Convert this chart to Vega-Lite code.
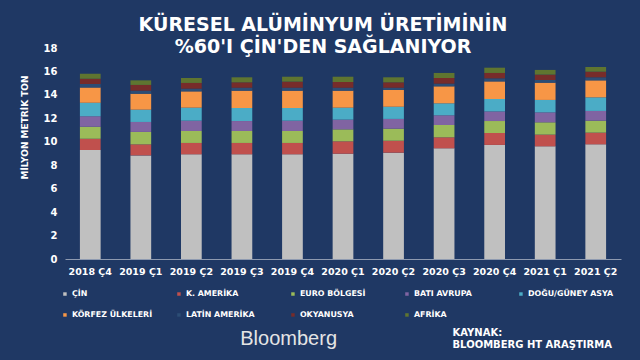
{
  "$schema": "https://vega.github.io/schema/vega-lite/v6.json",
  "autosize": "none",
  "width": 556,
  "height": 211,
  "padding": {"left": 65, "top": 48, "right": 19, "bottom": 101},
  "background": "#1f3864",
  "title": {
    "text": ["KÜRESEL ALÜMİNYUM ÜRETİMİNİN", "%60'I ÇİN'DEN SAĞLANIYOR"],
    "anchor": "middle",
    "frame": "group",
    "font": "DejaVu Sans",
    "fontSize": 19,
    "fontWeight": "bold",
    "color": "#ffffff",
    "lineHeight": 22,
    "dx": -20,
    "dy": 18
  },
  "datasets": {
    "production": [
      {"q": "2018 Ç4", "region": "ÇİN", "k": 1, "v": 9.30},
      {"q": "2018 Ç4", "region": "K. AMERİKA", "k": 2, "v": 0.96},
      {"q": "2018 Ç4", "region": "EURO BÖLGESİ", "k": 3, "v": 1.03},
      {"q": "2018 Ç4", "region": "BATI AVRUPA", "k": 4, "v": 0.88},
      {"q": "2018 Ç4", "region": "DOĞU/GÜNEY ASYA", "k": 5, "v": 1.17},
      {"q": "2018 Ç4", "region": "KÖRFEZ ÜLKELERİ", "k": 6, "v": 1.30},
      {"q": "2018 Ç4", "region": "LATİN AMERİKA", "k": 7, "v": 0.29},
      {"q": "2018 Ç4", "region": "OKYANUSYA", "k": 8, "v": 0.45},
      {"q": "2018 Ç4", "region": "AFRİKA", "k": 9, "v": 0.43},
      {"q": "2019 Ç1", "region": "ÇİN", "k": 1, "v": 8.84},
      {"q": "2019 Ç1", "region": "K. AMERİKA", "k": 2, "v": 0.94},
      {"q": "2019 Ç1", "region": "EURO BÖLGESİ", "k": 3, "v": 1.06},
      {"q": "2019 Ç1", "region": "BATI AVRUPA", "k": 4, "v": 0.85},
      {"q": "2019 Ç1", "region": "DOĞU/GÜNEY ASYA", "k": 5, "v": 1.05},
      {"q": "2019 Ç1", "region": "KÖRFEZ ÜLKELERİ", "k": 6, "v": 1.36},
      {"q": "2019 Ç1", "region": "LATİN AMERİKA", "k": 7, "v": 0.26},
      {"q": "2019 Ç1", "region": "OKYANUSYA", "k": 8, "v": 0.49},
      {"q": "2019 Ç1", "region": "AFRİKA", "k": 9, "v": 0.39},
      {"q": "2019 Ç2", "region": "ÇİN", "k": 1, "v": 8.93},
      {"q": "2019 Ç2", "region": "K. AMERİKA", "k": 2, "v": 0.97},
      {"q": "2019 Ç2", "region": "EURO BÖLGESİ", "k": 3, "v": 1.02},
      {"q": "2019 Ç2", "region": "BATI AVRUPA", "k": 4, "v": 0.88},
      {"q": "2019 Ç2", "region": "DOĞU/GÜNEY ASYA", "k": 5, "v": 1.11},
      {"q": "2019 Ç2", "region": "KÖRFEZ ÜLKELERİ", "k": 6, "v": 1.39},
      {"q": "2019 Ç2", "region": "LATİN AMERİKA", "k": 7, "v": 0.23},
      {"q": "2019 Ç2", "region": "OKYANUSYA", "k": 8, "v": 0.49},
      {"q": "2019 Ç2", "region": "AFRİKA", "k": 9, "v": 0.42},
      {"q": "2019 Ç3", "region": "ÇİN", "k": 1, "v": 8.93},
      {"q": "2019 Ç3", "region": "K. AMERİKA", "k": 2, "v": 0.97},
      {"q": "2019 Ç3", "region": "EURO BÖLGESİ", "k": 3, "v": 1.02},
      {"q": "2019 Ç3", "region": "BATI AVRUPA", "k": 4, "v": 0.85},
      {"q": "2019 Ç3", "region": "DOĞU/GÜNEY ASYA", "k": 5, "v": 1.11},
      {"q": "2019 Ç3", "region": "KÖRFEZ ÜLKELERİ", "k": 6, "v": 1.48},
      {"q": "2019 Ç3", "region": "LATİN AMERİKA", "k": 7, "v": 0.25},
      {"q": "2019 Ç3", "region": "OKYANUSYA", "k": 8, "v": 0.46},
      {"q": "2019 Ç3", "region": "AFRİKA", "k": 9, "v": 0.43},
      {"q": "2019 Ç4", "region": "ÇİN", "k": 1, "v": 8.93},
      {"q": "2019 Ç4", "region": "K. AMERİKA", "k": 2, "v": 0.97},
      {"q": "2019 Ç4", "region": "EURO BÖLGESİ", "k": 3, "v": 1.02},
      {"q": "2019 Ç4", "region": "BATI AVRUPA", "k": 4, "v": 0.88},
      {"q": "2019 Ç4", "region": "DOĞU/GÜNEY ASYA", "k": 5, "v": 1.08},
      {"q": "2019 Ç4", "region": "KÖRFEZ ÜLKELERİ", "k": 6, "v": 1.48},
      {"q": "2019 Ç4", "region": "LATİN AMERİKA", "k": 7, "v": 0.25},
      {"q": "2019 Ç4", "region": "OKYANUSYA", "k": 8, "v": 0.52},
      {"q": "2019 Ç4", "region": "AFRİKA", "k": 9, "v": 0.42},
      {"q": "2020 Ç1", "region": "ÇİN", "k": 1, "v": 8.98},
      {"q": "2020 Ç1", "region": "K. AMERİKA", "k": 2, "v": 1.06},
      {"q": "2020 Ç1", "region": "EURO BÖLGESİ", "k": 3, "v": 1.02},
      {"q": "2020 Ç1", "region": "BATI AVRUPA", "k": 4, "v": 0.83},
      {"q": "2020 Ç1", "region": "DOĞU/GÜNEY ASYA", "k": 5, "v": 1.02},
      {"q": "2020 Ç1", "region": "KÖRFEZ ÜLKELERİ", "k": 6, "v": 1.45},
      {"q": "2020 Ç1", "region": "LATİN AMERİKA", "k": 7, "v": 0.25},
      {"q": "2020 Ç1", "region": "OKYANUSYA", "k": 8, "v": 0.49},
      {"q": "2020 Ç1", "region": "AFRİKA", "k": 9, "v": 0.45},
      {"q": "2020 Ç2", "region": "ÇİN", "k": 1, "v": 9.07},
      {"q": "2020 Ç2", "region": "K. AMERİKA", "k": 2, "v": 1.02},
      {"q": "2020 Ç2", "region": "EURO BÖLGESİ", "k": 3, "v": 1.03},
      {"q": "2020 Ç2", "region": "BATI AVRUPA", "k": 4, "v": 0.83},
      {"q": "2020 Ç2", "region": "DOĞU/GÜNEY ASYA", "k": 5, "v": 1.04},
      {"q": "2020 Ç2", "region": "KÖRFEZ ÜLKELERİ", "k": 6, "v": 1.43},
      {"q": "2020 Ç2", "region": "LATİN AMERİKA", "k": 7, "v": 0.19},
      {"q": "2020 Ç2", "region": "OKYANUSYA", "k": 8, "v": 0.46},
      {"q": "2020 Ç2", "region": "AFRİKA", "k": 9, "v": 0.43},
      {"q": "2020 Ç3", "region": "ÇİN", "k": 1, "v": 9.44},
      {"q": "2020 Ç3", "region": "K. AMERİKA", "k": 2, "v": 0.94},
      {"q": "2020 Ç3", "region": "EURO BÖLGESİ", "k": 3, "v": 1.05},
      {"q": "2020 Ç3", "region": "BATI AVRUPA", "k": 4, "v": 0.83},
      {"q": "2020 Ç3", "region": "DOĞU/GÜNEY ASYA", "k": 5, "v": 1.02},
      {"q": "2020 Ç3", "region": "KÖRFEZ ÜLKELERİ", "k": 6, "v": 1.45},
      {"q": "2020 Ç3", "region": "LATİN AMERİKA", "k": 7, "v": 0.23},
      {"q": "2020 Ç3", "region": "OKYANUSYA", "k": 8, "v": 0.48},
      {"q": "2020 Ç3", "region": "AFRİKA", "k": 9, "v": 0.43},
      {"q": "2020 Ç4", "region": "ÇİN", "k": 1, "v": 9.73},
      {"q": "2020 Ç4", "region": "K. AMERİKA", "k": 2, "v": 1.02},
      {"q": "2020 Ç4", "region": "EURO BÖLGESİ", "k": 3, "v": 1.02},
      {"q": "2020 Ç4", "region": "BATI AVRUPA", "k": 4, "v": 0.82},
      {"q": "2020 Ç4", "region": "DOĞU/GÜNEY ASYA", "k": 5, "v": 1.06},
      {"q": "2020 Ç4", "region": "KÖRFEZ ÜLKELERİ", "k": 6, "v": 1.50},
      {"q": "2020 Ç4", "region": "LATİN AMERİKA", "k": 7, "v": 0.26},
      {"q": "2020 Ç4", "region": "OKYANUSYA", "k": 8, "v": 0.46},
      {"q": "2020 Ç4", "region": "AFRİKA", "k": 9, "v": 0.45},
      {"q": "2021 Ç1", "region": "ÇİN", "k": 1, "v": 9.61},
      {"q": "2021 Ç1", "region": "K. AMERİKA", "k": 2, "v": 1.00},
      {"q": "2021 Ç1", "region": "EURO BÖLGESİ", "k": 3, "v": 1.05},
      {"q": "2021 Ç1", "region": "BATI AVRUPA", "k": 4, "v": 0.85},
      {"q": "2021 Ç1", "region": "DOĞU/GÜNEY ASYA", "k": 5, "v": 1.06},
      {"q": "2021 Ç1", "region": "KÖRFEZ ÜLKELERİ", "k": 6, "v": 1.47},
      {"q": "2021 Ç1", "region": "LATİN AMERİKA", "k": 7, "v": 0.23},
      {"q": "2021 Ç1", "region": "OKYANUSYA", "k": 8, "v": 0.46},
      {"q": "2021 Ç1", "region": "AFRİKA", "k": 9, "v": 0.40},
      {"q": "2021 Ç2", "region": "ÇİN", "k": 1, "v": 9.78},
      {"q": "2021 Ç2", "region": "K. AMERİKA", "k": 2, "v": 1.00},
      {"q": "2021 Ç2", "region": "EURO BÖLGESİ", "k": 3, "v": 1.02},
      {"q": "2021 Ç2", "region": "BATI AVRUPA", "k": 4, "v": 0.83},
      {"q": "2021 Ç2", "region": "DOĞU/GÜNEY ASYA", "k": 5, "v": 1.16},
      {"q": "2021 Ç2", "region": "KÖRFEZ ÜLKELERİ", "k": 6, "v": 1.45},
      {"q": "2021 Ç2", "region": "LATİN AMERİKA", "k": 7, "v": 0.26},
      {"q": "2021 Ç2", "region": "OKYANUSYA", "k": 8, "v": 0.48},
      {"q": "2021 Ç2", "region": "AFRİKA", "k": 9, "v": 0.40}
    ]
  },
  "data": {"name": "production"},
  "mark": {"type": "bar"},
  "encoding": {
    "x": {
      "field": "q",
      "type": "ordinal",
      "sort": null,
      "scale": {"paddingInner": 0.59, "paddingOuter": 0.295},
      "axis": {
        "title": ["KAYNAK:", "BLOOMBERG HT ARAŞTIRMA"],
        "titleX": 387,
        "titleY": 76,
        "titleAlign": "left",
        "titleBaseline": "alphabetic",
        "titleFont": "DejaVu Sans",
        "titleFontSize": 10,
        "titleFontWeight": "bold",
        "titleColor": "#ffffff",
        "titleLineHeight": 12,
        "labelAngle": 0,
        "labelFont": "DejaVu Sans",
        "labelFontSize": 9.5,
        "labelFontWeight": "bold",
        "labelColor": "#ffffff",
        "labelPadding": 7,
        "ticks": false,
        "domainColor": "#8e9ab0",
        "domainWidth": 1
      }
    },
    "y": {
      "field": "v",
      "type": "quantitative",
      "stack": "zero",
      "scale": {"domain": [0, 18], "nice": false},
      "axis": {
        "title": "MİLYON METRİK TON",
        "titleX": -41,
        "titleY": 79,
        "titleAngle": -90,
        "titleAlign": "center",
        "titleBaseline": "middle",
        "titleFont": "DejaVu Sans",
        "titleFontSize": 9,
        "titleFontWeight": "bold",
        "titleColor": "#ffffff",
        "values": [0, 2, 4, 6, 8, 10, 12, 14, 16, 18],
        "labelFont": "DejaVu Sans",
        "labelFontSize": 10,
        "labelFontWeight": "bold",
        "labelColor": "#ffffff",
        "labelPadding": 8,
        "ticks": false,
        "domain": false,
        "grid": false
      }
    },
    "color": {
      "field": "region",
      "type": "nominal",
      "scale": {
        "domain": ["ÇİN", "K. AMERİKA", "EURO BÖLGESİ", "BATI AVRUPA", "DOĞU/GÜNEY ASYA", "KÖRFEZ ÜLKELERİ", "LATİN AMERİKA", "OKYANUSYA", "AFRİKA"],
        "range": ["#c0c0c0", "#c0504d", "#9bbb59", "#8064a2", "#4bacc6", "#f79646", "#2c4d75", "#772c2a", "#5f7530"]
      },
      "legend": {
        "orient": "none",
        "legendX": -4,
        "legendY": 242,
        "direction": "horizontal",
        "columns": 5,
        "gridAlign": "all",
        "columnPadding": 17,
        "rowPadding": 12,
        "padding": 0,
        "symbolType": "square",
        "symbolSize": 12,
        "symbolStrokeWidth": 0,
        "labelFont": "DejaVu Sans",
        "labelFontSize": 7.9,
        "labelFontWeight": "bold",
        "labelColor": "#ffffff",
        "labelOffset": 3,
        "title": "Bloomberg",
        "titleOrient": "bottom",
        "titleAnchor": "middle",
        "titleAlign": "right",
        "titleFont": "Liberation Sans",
        "titleFontSize": 20,
        "titleFontWeight": "normal",
        "titleColor": "#e4e4e4",
        "titlePadding": 10
      }
    },
    "order": {"field": "k", "type": "quantitative"}
  },
  "config": {"view": {"stroke": null}}
}
